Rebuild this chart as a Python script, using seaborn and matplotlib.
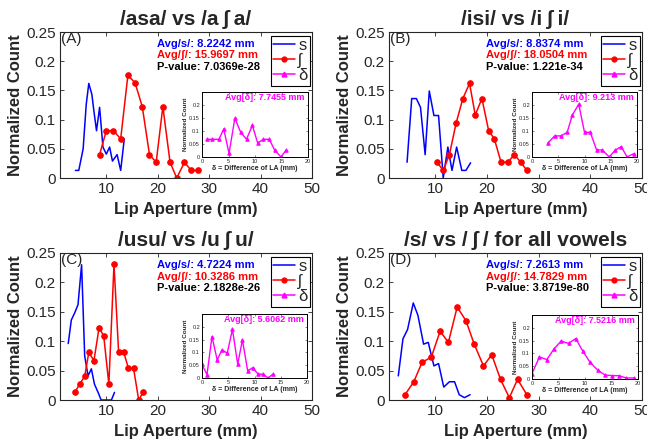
import matplotlib
matplotlib.use("Agg")
import matplotlib.pyplot as plt
from matplotlib.lines import Line2D
import seaborn as sns

sns.set_style("ticks")
plt.rcParams['font.family'] = ['Liberation Sans', 'DejaVu Sans']

# ---- data ----
titles = ["/asa/ vs /a\u2009ʃ\u2009a/", "/isi/ vs /i\u2009ʃ\u2009i/", "/usu/ vs /u\u2009ʃ\u2009u/",
          "/s/ vs /\u2009ʃ\u2009/ for all vowels"]
letters = ["(A)", "(B)", "(C)", "(D)"]
avg_s = ["8.2242", "8.8374", "4.7224", "7.2613"]
avg_sh = ["15.9697", "18.0504", "10.3286", "14.7829"]
p_vals = ["7.0369e-28", "1.221e-34", "2.1828e-26", "3.8719e-80"]
avg_d = ["7.7455", "9.213", "5.6062", "7.5216"]

a_s_x = [4.0, 4.65, 5.5, 6.1, 6.6, 7.2, 7.6, 8.1, 8.7, 9.35, 10.0, 10.65, 11.2, 12.1, 12.8, 13.5]
a_s_y = [0.013, 0.013, 0.05, 0.126, 0.162, 0.143, 0.114, 0.081, 0.121, 0.053, 0.041, 0.053, 0.029, 0.04, 0.013, 0.067]
a_sh_x = [8.7, 10.0, 11.4, 12.8, 14.2, 15.6, 17.0, 18.4, 19.7, 21.0, 22.4, 23.7, 25.2, 26.5, 27.9]
a_sh_y = [0.04, 0.081, 0.081, 0.067, 0.176, 0.163, 0.122, 0.04, 0.027, 0.122, 0.027, 0.0, 0.027, 0.013, 0.013]
a_d_x = [0.95, 1.9, 3.2, 4.1, 5.1, 6.2, 7.3, 8.4, 9.5, 10.5, 11.6, 12.7, 13.7, 14.9, 15.9]
a_d_y = [0.068, 0.068, 0.068, 0.108, 0.014, 0.149, 0.095, 0.068, 0.122, 0.054, 0.068, 0.068, 0.027, 0.0, 0.027]

b_s_x = [4.5, 5.4, 6.3, 7.1, 8.0, 8.8, 9.7, 10.6, 11.5, 12.4, 13.2, 14.1, 15.1, 15.9, 16.8]
b_s_y = [0.027, 0.136, 0.136, 0.121, 0.04, 0.149, 0.107, 0.107, 0.0, 0.053, 0.013, 0.053, 0.013, 0.013, 0.026]
b_sh_x = [10.3, 11.5, 12.7, 14.0, 15.3, 16.6, 17.7, 19.0, 20.3, 21.4, 22.7, 24.0, 25.3, 26.5, 27.7]
b_sh_y = [0.027, 0.013, 0.04, 0.094, 0.136, 0.162, 0.108, 0.136, 0.081, 0.067, 0.027, 0.027, 0.04, 0.027, 0.013]
b_d_x = [3.05, 4.3, 5.5, 6.7, 7.7, 8.9, 10.0, 11.1, 12.3, 13.4, 14.7, 15.9, 17.0, 18.1, 19.4]
b_d_y = [0.054, 0.081, 0.081, 0.095, 0.162, 0.203, 0.095, 0.095, 0.027, 0.027, 0.0, 0.027, 0.04, 0.0, 0.013]

c_s_x = [2.6, 3.2, 3.9, 4.5, 5.2, 5.8, 6.45, 7.1, 7.7, 8.4, 9.0, 9.7, 10.3, 11.0, 11.6]
c_s_y = [0.096, 0.136, 0.149, 0.162, 0.23, 0.075, 0.041, 0.053, 0.027, 0.013, 0.0, 0.0, 0.0, 0.0, 0.013]
c_sh_x = [3.9, 4.8, 5.8, 6.6, 7.6, 8.6, 9.5, 10.5, 11.5, 12.4, 13.4, 14.3, 15.3, 16.3, 17.2]
c_sh_y = [0.013, 0.027, 0.04, 0.081, 0.067, 0.123, 0.109, 0.027, 0.231, 0.081, 0.081, 0.054, 0.054, 0.0, 0.014]
c_d_x = [0.0, 0.95, 1.9, 2.9, 3.8, 4.8, 5.8, 6.8, 7.7, 8.7, 9.65, 10.7, 11.6, 12.6, 13.5]
c_d_y = [0.053, 0.013, 0.162, 0.07, 0.11, 0.097, 0.19, 0.054, 0.149, 0.028, 0.04, 0.015, 0.015, 0.0, 0.015]

d_s_x = [2.8, 3.7, 4.6, 5.7, 6.6, 7.7, 8.6, 9.7, 10.6, 11.6, 12.7, 13.7, 14.6, 15.6, 16.7]
d_s_y = [0.041, 0.104, 0.12, 0.165, 0.144, 0.095, 0.098, 0.058, 0.062, 0.022, 0.031, 0.031, 0.009, 0.004, 0.009]
d_sh_x = [4.1, 5.8, 7.4, 9.2, 10.9, 12.5, 14.2, 15.9, 17.5, 19.3, 20.9, 22.6, 24.3, 25.9, 27.7]
d_sh_y = [0.009, 0.031, 0.064, 0.073, 0.117, 0.098, 0.158, 0.135, 0.095, 0.058, 0.077, 0.035, 0.004, 0.035, 0.009]
d_d_x = [0.0, 1.4, 2.8, 4.2, 5.5, 6.9, 8.25, 9.6, 10.9, 12.4, 13.75, 15.1, 16.4, 17.8, 19.2]
d_d_y = [0.021, 0.086, 0.076, 0.119, 0.148, 0.139, 0.158, 0.108, 0.067, 0.034, 0.016, 0.013, 0.013, 0.004, 0.004]

series = [
    (a_s_x, a_s_y, a_sh_x, a_sh_y, a_d_x, a_d_y),
    (b_s_x, b_s_y, b_sh_x, b_sh_y, b_d_x, b_d_y),
    (c_s_x, c_s_y, c_sh_x, c_sh_y, c_d_x, c_d_y),
    (d_s_x, d_s_y, d_sh_x, d_sh_y, d_d_x, d_d_y),
]

# ---- layout (pixel boxes: left, right, top, bottom) ----
W, H = 647, 446
main_boxes = [(60, 312, 32, 178), (389, 642, 32, 178), (60, 312, 253, 400), (389, 642, 253, 400)]
inset_boxes = [(202, 308, 92, 157), (532, 637, 92, 157), (202, 307, 314, 378), (532, 638, 315, 379)]


def px_rect(box):
    l, r, t, b = box
    return [l / W, (H - b) / H, (r - l) / W, (b - t) / H]


DARK = "#262626"
fig = plt.figure(figsize=(6.47, 4.46), dpi=100)

for i in range(4):
    sx, sy, shx, shy, dx, dy = series[i]
    ax = fig.add_axes(px_rect(main_boxes[i]))
    sns.lineplot(x=sx, y=sy, ax=ax, color="#0000ff", lw=1.1, sort=False)
    sns.lineplot(x=shx, y=shy, ax=ax, color="#ff0000", lw=1.1, marker="o",
                 markersize=4, markeredgecolor="#ff0000", sort=False)
    ax.set_xlim(1, 50)
    ax.set_ylim(0, 0.25)
    ax.set_xticks([10, 20, 30, 40, 50])
    ax.set_yticks([0, 0.05, 0.1, 0.15, 0.2, 0.25])
    ax.set_yticklabels(["0", "0.05", "0.1", "0.15", "0.2", "0.25"])
    ax.tick_params(direction="in", top=True, right=True, labelsize=11,
                   length=3, width=0.6, colors=DARK, pad=3)
    for sp in ax.spines.values():
        sp.set_visible(True)
        sp.set_color(DARK)
        sp.set_linewidth(0.8)
    ax.set_title(titles[i], fontsize=15, fontweight="bold", pad=5)
    ax.set_xlabel("Lip Aperture (mm)", fontsize=12, fontweight="bold", labelpad=4)
    ax.set_ylabel("Normalized Count", fontsize=12, fontweight="bold", labelpad=2)
    ax.text(0.005, 0.95, letters[i], transform=ax.transAxes, fontsize=11,
            ha="left", va="center", color=DARK)
    ax.text(0.385, 0.92, f"Avg/s/: {avg_s[i]} mm", transform=ax.transAxes,
            fontsize=8, fontweight="bold", color="#0000ff", va="center")
    ax.text(0.385, 0.84, f"Avg/ʃ/: {avg_sh[i]} mm", transform=ax.transAxes,
            fontsize=8, fontweight="bold", color="#ff0000", va="center")
    ax.text(0.385, 0.76, f"P-value: {p_vals[i]}", transform=ax.transAxes,
            fontsize=8, fontweight="bold", color="black", va="center")

    handles = [
        Line2D([], [], color="#0000ff", lw=1.1),
        Line2D([], [], color="#ff0000", lw=1.1, marker="o", markersize=3.5),
        Line2D([], [], color="#ff00ff", lw=1.1, marker="^", markersize=3.5),
    ]
    leg = ax.legend(handles, ["s", "ʃ", "δ"], loc="upper right",
                    bbox_to_anchor=(0.993, 0.975), borderaxespad=0, fontsize=12,
                    handlelength=1.3, handletextpad=0.2, labelspacing=0.0,
                    borderpad=0.15, fancybox=False, framealpha=1)
    leg.get_frame().set_edgecolor("black")
    leg.get_frame().set_linewidth(0.8)

    ins = fig.add_axes(px_rect(inset_boxes[i]))
    sns.lineplot(x=dx, y=dy, ax=ins, color="#ff00ff", lw=1.0, marker="^",
                 markersize=2.5, markeredgecolor="#ff00ff", sort=False)
    ins.set_xlim(0, 20)
    ins.set_ylim(0, 0.25)
    ins.set_xticks([0, 5, 10, 15, 20])
    ins.set_yticks([0, 0.05, 0.1, 0.15, 0.2])
    ins.set_yticklabels(["0", "0.05", "0.1", "0.15", "0.2"])
    ins.tick_params(direction="in", top=True, right=True, labelsize=4,
                    length=1.5, width=0.4, colors=DARK, pad=1.5)
    for sp in ins.spines.values():
        sp.set_visible(True)
        sp.set_color("black")
        sp.set_linewidth(0.7)
    ins.set_xlabel("δ = Difference of LA (mm)", fontsize=5, fontweight="bold", labelpad=1)
    ins.set_ylabel("Normalized Count", fontsize=4.5, fontweight="bold", labelpad=1)
    ins.text(0.97, 0.92, f"Avg[δ]: {avg_d[i]} mm", transform=ins.transAxes,
             fontsize=6.5, fontweight="bold", color="#ff00ff", ha="right", va="center")

fig.savefig("out.png", dpi=100)
